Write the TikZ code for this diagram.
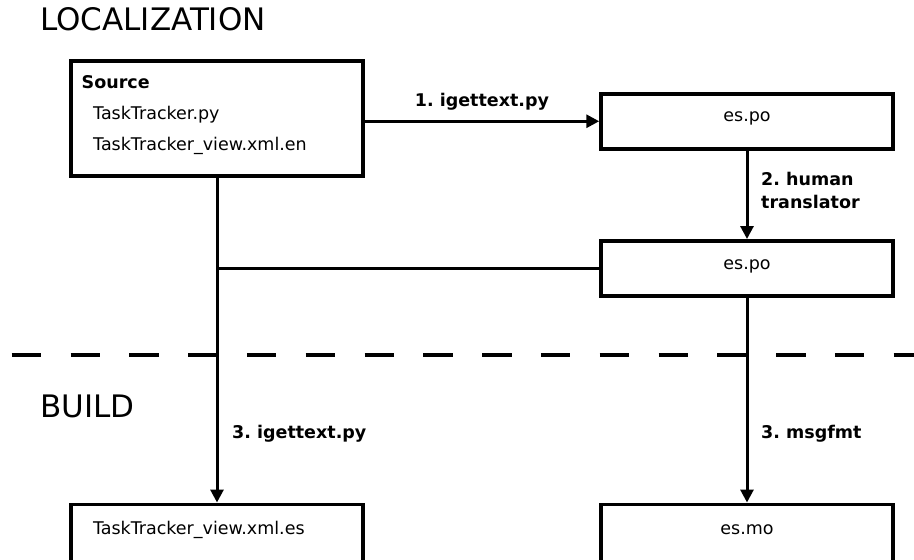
\documentclass[tikz,border=0pt]{standalone}
\usepackage{fontspec}
\setmainfont{DejaVu Sans}
\usetikzlibrary{arrows.meta, positioning, calc}
\definecolor{mainBlack}{gray}{0}
\frenchspacing

\begin{document}
\begin{tikzpicture}[x=1pt, y=-1pt, >={Triangle[length=13pt, width=13pt]},
    filebox/.style={draw=mainBlack, line width=3.5pt, minimum width=292pt, inner sep=0pt, font=\fontsize{17.5}{21}\selectfont},
    filetext/.style={anchor=base west, inner sep=0pt, font=\fontsize{17.5}{21}\selectfont},
    flow/.style={line width=3pt, mainBlack},
    steplabel/.style={inner sep=0pt, align=left, font=\fontsize{17.5}{23}\selectfont\bfseries},
    phase/.style={anchor=base west, inner sep=0pt, font=\fontsize{31}{37}\selectfont}]
    \useasboundingbox (0,0) rectangle (914,560);

    % phases
    \node[phase] (loctitle) at (40,30) {LOCALIZATION};
    \node[phase] (buildtitle) at (40,417) {BUILD};

    \coordinate (divleft) at (0,354.5);
    \coordinate (divright) at (914,354.5);
    \draw[line width=4pt, mainBlack, dash pattern=on 29.4pt off 29.4pt, dash phase=47.1pt] (divleft) -- (divright);

    % files
    \node[filebox, minimum height=115pt] (src) at (217,118.5) {};
    \node[filetext, font=\fontsize{17.5}{21}\selectfont\bfseries] (srctitle) at (81.5,88) {Source};
    \node[filetext] (srcpy) at (93,119.5) {TaskTracker.py};
    \node[filetext] (srcxml) at (93,150) {TaskTracker\_view.xml.en};

    \node[filebox, anchor=north, text height=28pt, text depth=27pt] (pofirst) at (747,92) {es.po};
    \node[filebox, anchor=north, text height=29pt, text depth=26pt] (posecond) at (747,239) {es.po};
    \node[filebox, anchor=north, text height=30pt, text depth=40pt] (moout) at (747,502.5) {es.mo};
    \node[filebox, anchor=north, text width=248pt, align=left, text height=30.5pt, text depth=39.5pt] (xmlout) at (217,502.5) {TaskTracker\_view.xml.es};

    % steps
    \draw[flow, ->] (pofirst.west -| src.east) -- (pofirst.west)
        node[steplabel, midway, anchor=base, yshift=15pt] (stepone) {1. igettext.py};
    \draw[flow, ->] (pofirst) -- (posecond);
    \node[steplabel, anchor=north west] (steptwo) at (761,171.7) {2. human\\translator};
    \draw[flow] (posecond.west) -- (posecond.west -| src.south);
    \draw[flow, ->] (src) -- (xmlout);
    \node[steplabel, anchor=base west] (stepxml) at (232,438) {3. igettext.py};
    \draw[flow, ->] (posecond) -- (moout);
    \node[steplabel, anchor=base west] (stepmo) at (761,438) {3. msgfmt};
\end{tikzpicture}
\end{document}
